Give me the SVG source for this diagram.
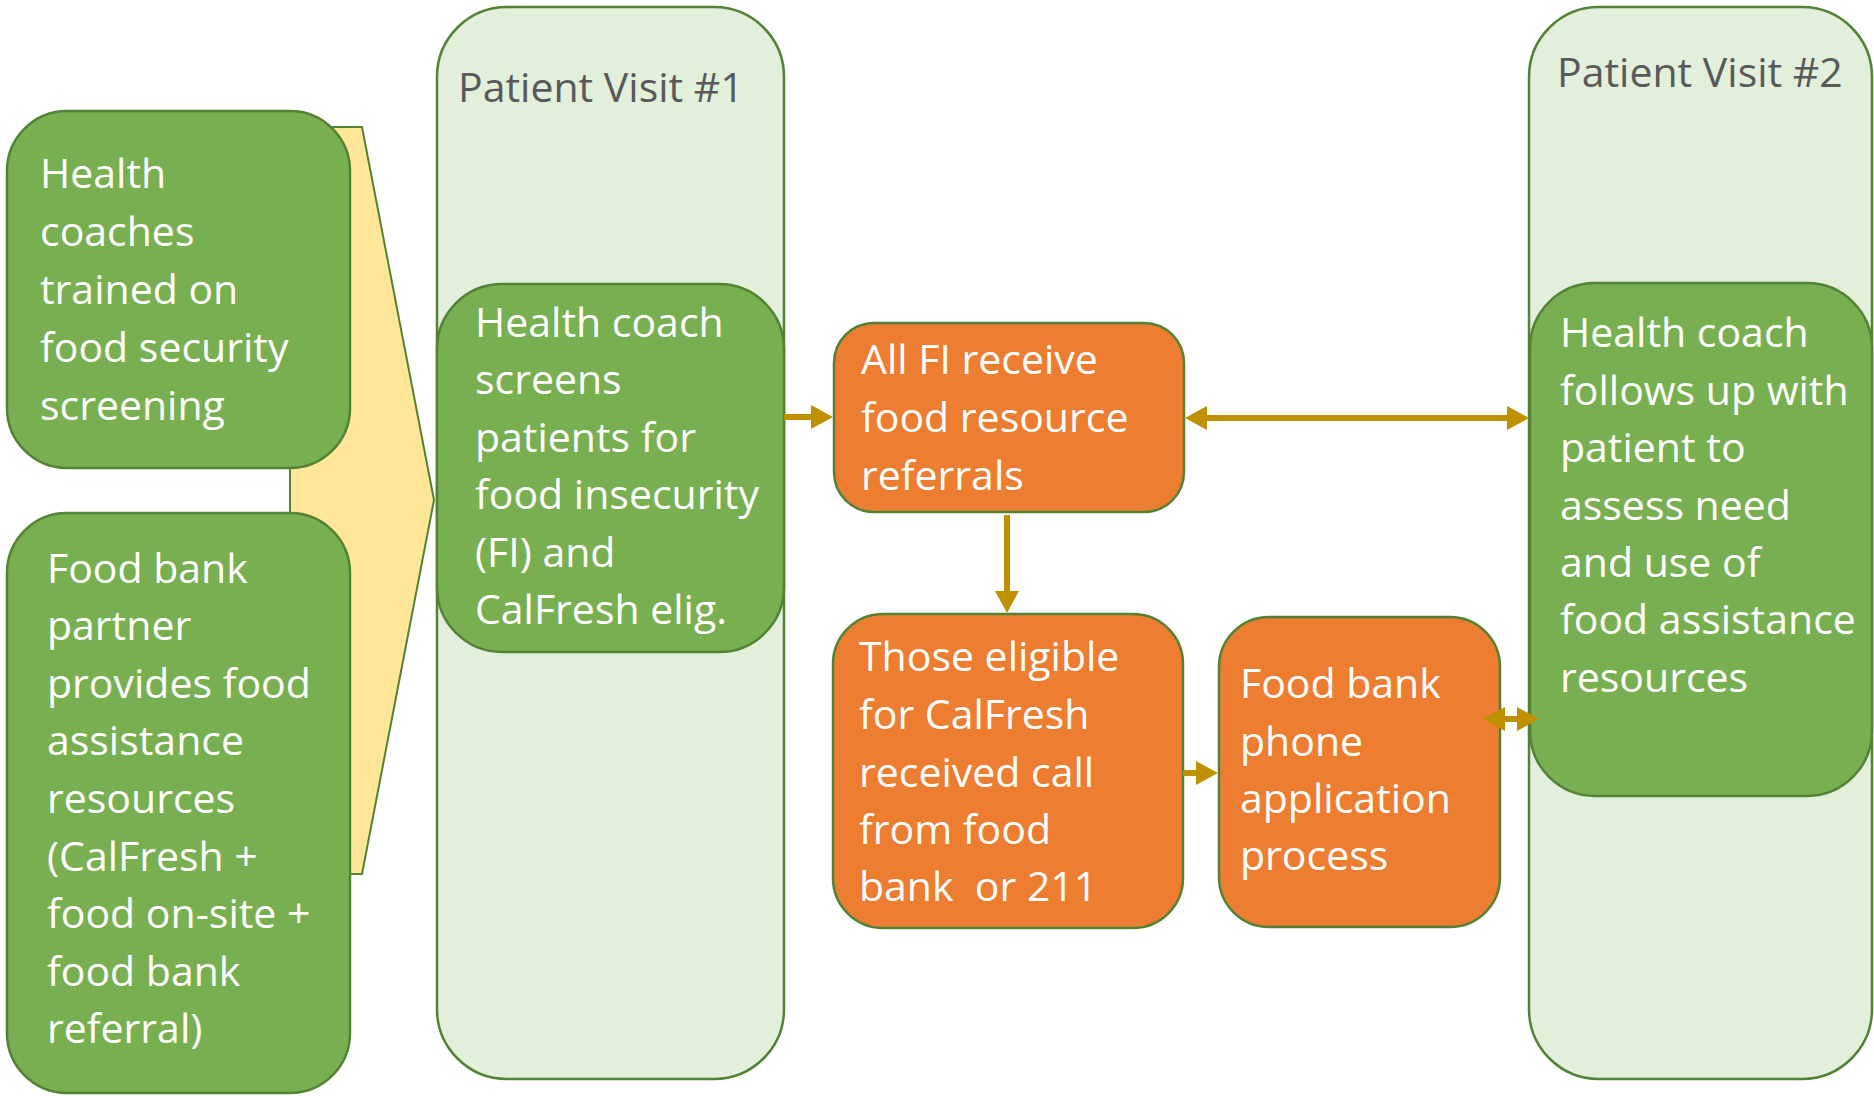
<svg xmlns="http://www.w3.org/2000/svg" width="1874" height="1096" viewBox="0 0 1874 1096">
<defs>
<style>
.cont{fill:#E2EFDA;stroke:#548235;stroke-width:2.5}
.grn{fill:#78B051;stroke:#548235;stroke-width:2.5}
.org{fill:#ED7D31;stroke:#548235;stroke-width:2.5}
.t{font-family:"Open Sans","Noto Sans",sans-serif;font-size:41px;fill:#FFFFFF;white-space:pre}
.ttl{font-family:"Open Sans","Noto Sans",sans-serif;font-size:41px;fill:#595959}
.ar{stroke:#BF9000;stroke-width:6;fill:none}
</style>
<marker id="ah" viewBox="0 0 22 24" refX="0" refY="12" markerWidth="22" markerHeight="24" markerUnits="userSpaceOnUse" orient="auto-start-reverse">
<path d="M0,0 L22,12 L0,24 z" fill="#BF9000"/>
</marker>
</defs>
<rect width="1874" height="1096" fill="#FFFFFF"/>

<g id="chevron">
<polygon points="290,127 362,127 434,500 362,874 290,874" fill="#FFE699" stroke="#548235" stroke-width="2"/>
</g>

<g id="training">
<rect class="grn" x="7" y="111" width="343" height="357" rx="60"/>
<text class="t" x="40"><tspan x="40" y="188">Health</tspan><tspan x="40" y="246">coaches</tspan><tspan x="40" y="304">trained on</tspan><tspan x="40" y="362">food security</tspan><tspan x="40" y="420">screening</tspan></text>
</g>

<g id="foodbank-partner">
<rect class="grn" x="7" y="513" width="343" height="580" rx="60"/>
<text class="t"><tspan x="47" y="583">Food bank</tspan><tspan x="47" y="640">partner</tspan><tspan x="47" y="698">provides food</tspan><tspan x="47" y="755">assistance</tspan><tspan x="47" y="813">resources</tspan><tspan x="47" y="871">(CalFresh +</tspan><tspan x="47" y="928">food on-site +</tspan><tspan x="47" y="986">food bank</tspan><tspan x="47" y="1043">referral)</tspan></text>
</g>

<g id="visit1">
<rect class="cont" x="437" y="7" width="347" height="1072" rx="70"/>
<text class="ttl" x="458" y="102">Patient Visit #1</text>
</g>

<g id="screening">
<rect class="grn" x="437" y="284" width="347" height="368" rx="65"/>
<text class="t"><tspan x="475" y="337">Health coach</tspan><tspan x="475" y="394">screens</tspan><tspan x="475" y="452">patients for</tspan><tspan x="475" y="509">food insecurity</tspan><tspan x="475" y="567">(FI) and</tspan><tspan x="475" y="624">CalFresh elig.</tspan></text>
</g>

<g id="visit2">
<rect class="cont" x="1529" y="7" width="343" height="1072" rx="70"/>
<text class="ttl" x="1557" y="87">Patient Visit #2</text>
</g>

<g id="followup">
<rect class="grn" x="1530" y="283" width="342" height="513" rx="65"/>
<text class="t"><tspan x="1560" y="347">Health coach</tspan><tspan x="1560" y="405">follows up with</tspan><tspan x="1560" y="462">patient to</tspan><tspan x="1560" y="520">assess need</tspan><tspan x="1560" y="577">and use of</tspan><tspan x="1560" y="634">food assistance</tspan><tspan x="1560" y="692">resources</tspan></text>
</g>

<g id="referrals">
<rect class="org" x="834" y="323" width="350" height="189" rx="40"/>
<text class="t"><tspan x="861" y="374">All FI receive</tspan><tspan x="861" y="432">food resource</tspan><tspan x="861" y="490">referrals</tspan></text>
</g>

<g id="eligible">
<rect class="org" x="833" y="614" width="350" height="314" rx="50"/>
<text class="t"><tspan x="859" y="671">Those eligible</tspan><tspan x="859" y="729">for CalFresh</tspan><tspan x="859" y="787">received call</tspan><tspan x="859" y="844">from food</tspan><tspan x="859" y="901">bank  or 211</tspan></text>
</g>

<g id="phone-app">
<rect class="org" x="1219" y="617" width="281" height="310" rx="50"/>
<text class="t"><tspan x="1240" y="698">Food bank</tspan><tspan x="1240" y="756">phone</tspan><tspan x="1240" y="813">application</tspan><tspan x="1240" y="870">process</tspan></text>
</g>

<g id="connectors">
<line class="ar" x1="784" y1="417" x2="811" y2="417" marker-end="url(#ah)"/>
<line class="ar" x1="1207" y1="418" x2="1507" y2="418" marker-start="url(#ah)" marker-end="url(#ah)"/>
<line class="ar" x1="1007" y1="515" x2="1007" y2="591" marker-end="url(#ah)"/>
<line class="ar" x1="1183" y1="773" x2="1196" y2="773" marker-end="url(#ah)"/>
<line class="ar" x1="1505" y1="719" x2="1517" y2="719" marker-start="url(#ah)" marker-end="url(#ah)"/>
</g>
</svg>
